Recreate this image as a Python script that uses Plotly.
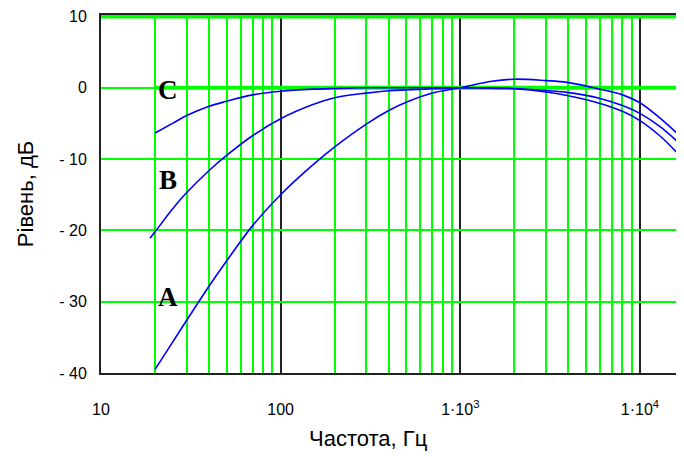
import math
import plotly.graph_objects as go

# ---- data ----
FREQ_A = [20, 25, 30, 40, 50, 70, 100, 150, 200, 300, 400, 500, 700, 1000,
          1500, 2000, 3000, 3930, 6000, 8000, 10000, 13000, 17600]
LEVEL_A = [-39.5, -35.7, -32.6, -27.8, -24.3, -19.3, -15.0, -10.9, -8.3, -5.1,
           -3.2, -2.05, -0.75, 0.0, 0.9, 1.2, 1.0, 0.75, -0.2, -1.0, -2.1, -4.3, -7.3]

FREQ_B = [18.75, 20, 25, 30, 40, 50, 70, 100, 150, 200, 300, 400, 500, 700, 1000,
          1660, 2000, 3000, 3930, 6000, 8000, 10000, 13000, 16500]
LEVEL_B = [-21.1, -20.2, -17.0, -14.7, -11.6, -9.5, -6.7, -4.35, -2.4, -1.4, -0.75,
           -0.42, -0.3, -0.15, 0.0, -0.1, -0.15, -0.6, -1.1, -2.2, -3.3, -4.6, -6.8, -9.4]

FREQ_C = [20, 25, 30, 40, 50, 70, 100, 150, 200, 300, 500, 1000,
          1660, 2000, 3000, 3930, 6000, 8000, 10000, 13000, 17600]
LEVEL_C = [-6.35, -5.0, -3.9, -2.6, -1.9, -1.0, -0.5, -0.2, -0.1, 0.0, 0.0, 0.0,
           -0.05, -0.1, -0.4, -0.65, -1.5, -2.5, -3.6, -5.5, -8.4]

CURVE_NAMES = ["A", "B", "C"]
LABEL_FREQ = [23.6, 23.6, 23.6]
LABEL_LEVEL = [-29.4, -13.0, -0.3]

MAJOR_TICKS = [10, 100, 1000, 10000]
MAJOR_TEXT = ["10", "100", "1·10<sup>3</sup>", "1·10<sup>4</sup>"]
MINOR_TICKS = [m * d for d in (10, 100, 1000) for m in range(2, 10)]
Y_TICKS = [-40, -30, -20, -10, 0, 10]
Y_TEXT = ["- 40", "- 30", "- 20", "- 10", "0", "10"]

ZERO_LINE_X = [20, 17600]
ZERO_LINE_Y = [0, 0]
TOP_LINE_X = [10, 17600]
TOP_LINE_Y = [10, 10]

X_MIN, X_MAX = 10, 17600
Y_MIN, Y_MAX = -40, 10.2

GREEN = "#00ff00"
BLUE = "#0000ff"

fig = go.Figure()

fig.add_trace(go.Scatter(x=ZERO_LINE_X, y=ZERO_LINE_Y, mode="lines",
                         line=dict(color=GREEN, width=4), hoverinfo="skip", showlegend=False))
fig.add_trace(go.Scatter(x=TOP_LINE_X, y=TOP_LINE_Y, mode="lines",
                         line=dict(color=GREEN, width=4), hoverinfo="skip", showlegend=False))

for fx, ly, nm in [(FREQ_A, LEVEL_A, "A"), (FREQ_B, LEVEL_B, "B"), (FREQ_C, LEVEL_C, "C")]:
    fig.add_trace(go.Scatter(x=fx, y=ly, mode="lines", name=nm,
                             line=dict(color=BLUE, width=1.6, shape="spline", smoothing=1.0),
                             showlegend=False))

for nm, f, lv in zip(CURVE_NAMES, LABEL_FREQ, LABEL_LEVEL):
    fig.add_annotation(x=math.log10(f), y=lv, text=f"<b>{nm}</b>", showarrow=False,
                       font=dict(family="Liberation Serif", size=27, color="black"),
                       xanchor="center", yanchor="middle")

fig.add_annotation(xref="paper", yref="paper", x=(368 - 101) / (684 - 101), y=-0.182,
                   text="Частота, Гц", showarrow=False, xanchor="center", yanchor="middle",
                   font=dict(family="Liberation Sans", size=22, color="black"))

fig.update_xaxes(type="log", range=[math.log10(X_MIN), math.log10(X_MAX)],
                 tickmode="array", tickvals=MAJOR_TICKS, ticktext=MAJOR_TEXT,
                 showgrid=True, gridcolor="#222222", gridwidth=2,
                 minor=dict(tickvals=MINOR_TICKS, showgrid=True, gridcolor=GREEN, gridwidth=2,
                            ticks=""),
                 showline=True, linecolor="#222222", linewidth=2, mirror=True,
                 ticks="outside", ticklen=21, tickcolor="rgba(0,0,0,0)",
                 tickfont=dict(family="Liberation Sans", size=16, color="black"),
                 ticklabeloverflow="allow",
                 zeroline=False, automargin=False)
fig.update_yaxes(range=[Y_MIN, Y_MAX], tickmode="array", tickvals=Y_TICKS, ticktext=Y_TEXT,
                 showgrid=True, gridcolor=GREEN, gridwidth=2,
                 showline=True, linecolor="#222222", linewidth=2,
                 ticks="outside", ticklen=9, tickcolor="rgba(0,0,0,0)",
                 tickfont=dict(family="Liberation Sans", size=16, color="black"),
                 ticklabeloverflow="allow",
                 zeroline=False, automargin=False,
                 title=dict(text="Рівень, дБ", standoff=20,
                            font=dict(family="Liberation Sans", size=22, color="black")))

# page body adds an 8 px offset; compensate so the plot area matches the reference
fig.update_layout(width=676, height=449,
                  margin=dict(l=93, r=0, t=7, b=84, pad=0),
                  plot_bgcolor="white", paper_bgcolor="white",
                  showlegend=False)

fig.write_html("out.html")
